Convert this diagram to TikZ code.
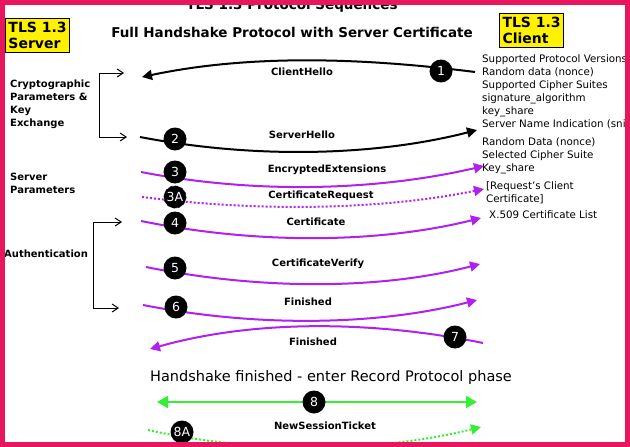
\documentclass[tikz,border=0pt]{standalone}
\usepackage{fontspec}
\setmainfont{DejaVu Sans}
\usetikzlibrary{arrows.meta}
\definecolor{frame}{HTML}{E8175D}
\definecolor{pur}{HTML}{B020F0}
\definecolor{grn}{HTML}{33F033}
\begin{document}
\begin{tikzpicture}[x=1pt,y=-1pt,
 num/.style={circle,fill=black,text=white,inner sep=0pt,minimum size=23pt,font=\fontsize{12.5}{12}\selectfont},
 lbl/.style={font=\bfseries\fontsize{10}{10}\selectfont},
 side/.style={font=\bfseries\fontsize{10}{13}\selectfont,align=left,anchor=north west,inner sep=0pt},
 info/.style={font=\fontsize{10.3}{13}\selectfont,align=left,anchor=north west,inner sep=0pt},
 ybox/.style={fill=yellow,draw=black,line width=1pt,font=\bfseries\fontsize{14}{16}\selectfont,align=left,inner xsep=3pt,inner ysep=3.5pt,anchor=north west},
 msg/.style={line width=2pt,-{Triangle[length=10pt,width=10pt]}},
 brk/.style={line width=1pt,-{Straight Barb[length=6pt,width=8pt]}}]
\useasboundingbox (0,0) rectangle (630,447);
\fill[white] (0,0) rectangle (630,447);
% titles
\node[font=\bfseries\fontsize{13.5}{14}\selectfont] (t0) at (292,6) {TLS 1.3 Protocol Sequences};
\node[font=\bfseries\fontsize{13.5}{14}\selectfont] (t1) at (292,32) {Full Handshake Protocol with Server Certificate};
\node[font=\fontsize{14.5}{15}\selectfont] (t2) at (331,377) {Handshake finished - enter Record Protocol phase};
\node[ybox] (srv) at (5,18) {TLS 1.3\\Server};
\node[ybox] (cli) at (499,13) {TLS 1.3\\Client};
% side labels
\node[side] (s1) at (10,80) {Cryptographic\\Parameters \&\\Key\\Exchange};
\node[side] (s2) at (10,173) {Server\\Parameters};
\node[side,anchor=west] (s3) at (4,254) {Authentication};
% info
\node[info] (i1) at (482,54) {Supported Protocol Versions\\Random data (nonce)\\Supported Cipher Suites\\signature\_algorithm\\key\_share\\Server Name Indication (sni)};
\node[info] (i2) at (482,137) {Random Data (nonce)\\Selected Cipher Suite\\Key\_share};
\node[info] (i3) at (486,181) {[Request's Client\\Certificate]};
\node[info] (i4) at (489,210) {X.509 Certificate List};
% brackets
\coordinate (b1a) at (99,73); \coordinate (b1b) at (99,137);
\coordinate (b1c) at (124,73); \coordinate (b1d) at (127,137);
\draw[brk] (b1a) -- (b1c);
\draw[brk] (b1a) -- (b1b) -- (b1d);
\coordinate (b2a) at (93,222); \coordinate (b2b) at (93,308);
\coordinate (b2c) at (122,222); \coordinate (b2d) at (119,308);
\draw[brk] (b2a) -- (b2c);
\draw[brk] (b2a) -- (b2b) -- (b2d);
% coordinates
\coordinate (a1s) at (475,72); \coordinate (a1e) at (142,77);
\coordinate (a2s) at (140,137); \coordinate (a2e) at (477,130);
\coordinate (a3s) at (141,172); \coordinate (a3e) at (484,166);
\coordinate (a3As) at (142,197); \coordinate (a3Ae) at (484,189);
\coordinate (a4s) at (141,221); \coordinate (a4e) at (481,218);
\coordinate (a5s) at (146,267); \coordinate (a5e) at (480,264);
\coordinate (a6s) at (143,305); \coordinate (a6e) at (477,300);
\coordinate (a7s) at (483,343); \coordinate (a7e) at (150,349);
\coordinate (a8s) at (157,402); \coordinate (a8e) at (477,402);
\coordinate (a8As) at (148,430); \coordinate (a8Ae) at (481,427);
\draw[msg] (a1s) .. controls (380,60) and (260,52) .. (a1e);
\draw[msg] (a2s) .. controls (260,160) and (380,155) .. (a2e);
\draw[msg,pur] (a3s) .. controls (260,195) and (380,190) .. (a3e);
\draw[msg,pur,dotted,line width=2pt] (a3As) .. controls (260,212) and (380,210) .. (a3Ae);
\draw[msg,pur] (a4s) .. controls (260,245) and (380,243) .. (a4e);
\draw[msg,pur] (a5s) .. controls (260,290) and (380,290) .. (a5e);
\draw[msg,pur] (a6s) .. controls (260,328) and (380,325) .. (a6e);
\draw[msg,pur] (a7s) .. controls (380,322) and (260,318) .. (a7e);
\draw[line width=2pt,grn,{Triangle[length=11pt,width=12pt]}-{Triangle[length=11pt,width=12pt]}] (a8s) -- (a8e);
\draw[msg,grn,dotted] (a8As) .. controls (260,455) and (380,452) .. (a8Ae);
% labels
\node[lbl] (l1) at (302,72) {ClientHello};
\node[lbl] (l2) at (302,135) {ServerHello};
\node[lbl] (l3) at (327,170) {EncryptedExtensions};
\node[lbl] (l3A) at (321,196) {CertificateRequest};
\node[lbl] (l4) at (316,222) {Certificate};
\node[lbl] (l5) at (318,264) {CertificateVerify};
\node[lbl] (l6) at (308,302) {Finished};
\node[lbl] (l7) at (313,342) {Finished};
\node[lbl] (l8A) at (325,426) {NewSessionTicket};
% numbers
\node[num] (n1) at (441,71) {1};
\node[num] (n2) at (175,139) {2};
\node[num] (n3) at (175,172) {3};
\node[num,draw=white,dashed] (n3A) at (175,197) {3A};
\node[num] (n4) at (175,223) {4};
\node[num] (n5) at (175,268) {5};
\node[num] (n6) at (176,307) {6};
\node[num] (n7) at (455,337) {7};
\node[num] (n8) at (314,402) {8};
\node[num] (n8A) at (182,432) {8A};
\draw[frame,line width=5pt] (2.5,2.5) rectangle (627.5,444.5);
\draw[frame,line width=5pt] (0,444.5) -- (630,444.5);
\end{tikzpicture}
\end{document}
